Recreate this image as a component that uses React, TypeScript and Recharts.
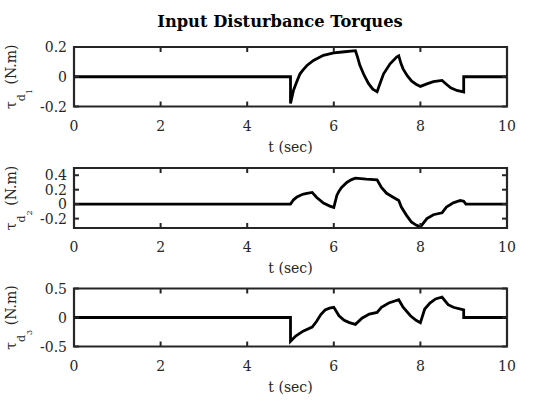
import { LineChart, Line, XAxis, YAxis, ReferenceArea } from 'recharts'

// time stamps (sec) and torques (N.m)
const T1 = [0, 5, 5, 5.07, 5.14, 5.22, 5.3, 5.38, 5.53, 5.76, 6.0, 6.25, 6.5, 6.55, 6.6, 6.7, 6.8, 6.9, 7.0, 7.08, 7.15, 7.3, 7.45, 7.5, 7.55, 7.6, 7.7, 7.8, 7.9, 8.0, 8.15, 8.3, 8.5, 8.6, 8.7, 8.84, 9.0, 9.0, 10]
const TAU1 = [0, 0, -0.18, -0.09, -0.037, 0.02, 0.05, 0.076, 0.11, 0.144, 0.16, 0.168, 0.175, 0.13, 0.078, 0.01, -0.045, -0.083, -0.1, -0.035, 0.02, 0.087, 0.132, 0.14, 0.09, 0.053, 0.005, -0.03, -0.05, -0.065, -0.048, -0.033, -0.025, -0.05, -0.074, -0.092, -0.102, 0, 0]

const T2 = [0, 5, 5.07, 5.15, 5.22, 5.3, 5.38, 5.5, 5.6, 5.76, 5.91, 6.0, 6.07, 6.12, 6.18, 6.3, 6.41, 6.5, 6.75, 7.0, 7.1, 7.22, 7.37, 7.5, 7.56, 7.68, 7.79, 7.9, 8.0, 8.15, 8.3, 8.5, 8.6, 8.76, 8.92, 9.0, 9.05, 10]
const TAU2 = [0, 0, 0.06, 0.1, 0.12, 0.14, 0.15, 0.162, 0.096, 0.014, -0.027, -0.046, 0.12, 0.18, 0.23, 0.3, 0.34, 0.36, 0.345, 0.335, 0.23, 0.15, 0.096, 0.05, -0.04, -0.155, -0.246, -0.29, -0.315, -0.2, -0.146, -0.12, -0.04, 0.018, 0.05, 0.04, 0, 0]

const T3 = [0, 5, 5, 5.12, 5.29, 5.5, 5.6, 5.7, 5.8, 5.9, 6.0, 6.12, 6.24, 6.36, 6.5, 6.65, 6.82, 7.0, 7.1, 7.27, 7.5, 7.6, 7.77, 7.9, 8.0, 8.1, 8.22, 8.35, 8.5, 8.64, 8.76, 9.0, 9.0, 10]
const TAU3 = [0, 0, -0.41, -0.32, -0.235, -0.165, -0.07, 0.05, 0.13, 0.16, 0.175, 0.03, -0.047, -0.088, -0.118, -0.012, 0.06, 0.088, 0.176, 0.25, 0.306, 0.176, 0.03, -0.047, -0.088, 0.147, 0.25, 0.32, 0.353, 0.22, 0.176, 0.13, 0, 0]

const X_TICKS = [0, 2, 4, 6, 8, 10]
const Y_TICKS_1 = [-0.2, 0, 0.2]
const Y_TICKS_2 = [-0.2, 0, 0.2, 0.4]
const Y_TICKS_3 = [-0.5, 0, 0.5]
const Y_DOMAIN_1 = [-0.2, 0.2]
const Y_DOMAIN_2 = [-0.33, 0.5]
const Y_DOMAIN_3 = [-0.5, 0.5]

const TITLE = 'Input Disturbance Torques'
const X_LABEL = 't (sec)'

const W = 560
const H = 420
const PLOT_LEFT = 74
const PLOT_RIGHT = 507
const X_AXIS_H = 50
const Y_AXIS_W = 60
const TICK_LEN = 5
const TICK_MARGIN = 4
const FONT = '"DejaVu Serif", serif'
const AXIS_COLOR = '#262626'

const PANELS = [
  { top: 47, bottom: 106.5, t: T1, v: TAU1, domain: Y_DOMAIN_1, ticks: Y_TICKS_1, sub: '1' },
  { top: 168, bottom: 228, t: T2, v: TAU2, domain: Y_DOMAIN_2, ticks: Y_TICKS_2, sub: '2' },
  { top: 288.5, bottom: 346.5, t: T3, v: TAU3, domain: Y_DOMAIN_3, ticks: Y_TICKS_3, sub: '3' },
]

const XTick = ({ x, y, payload, plotTop }: any) => {
  const axisY = y - TICK_MARGIN
  return (
    <g>
      <line x1={x} x2={x} y1={axisY} y2={axisY - TICK_LEN} stroke={AXIS_COLOR} strokeWidth={2} />
      <line x1={x} x2={x} y1={plotTop} y2={plotTop + TICK_LEN} stroke={AXIS_COLOR} strokeWidth={2} />
      <text x={x} y={axisY + 24} textAnchor="middle" fontFamily={FONT} fontSize={14} fill={AXIS_COLOR}>
        {payload.value}
      </text>
    </g>
  )
}

const YTick = ({ x, y, payload }: any) => {
  const axisX = x + TICK_MARGIN
  return (
    <g>
      <line x1={axisX} x2={axisX + TICK_LEN} y1={y} y2={y} stroke={AXIS_COLOR} strokeWidth={2} />
      <line x1={PLOT_RIGHT} x2={PLOT_RIGHT - TICK_LEN} y1={y} y2={y} stroke={AXIS_COLOR} strokeWidth={2} />
      <text x={axisX - 7} y={y + 5} textAnchor="end" fontFamily={FONT} fontSize={14} fill={AXIS_COLOR}>
        {String(payload.value)}
      </text>
    </g>
  )
}

function Panel({ panel }: { panel: (typeof PANELS)[number] }) {
  const data = panel.t.map((t, i) => ({ t, v: panel.v[i] }))
  return (
    <div style={{ position: 'absolute', left: 0, top: 0 }}>
      <LineChart
        width={W}
        height={H}
        data={data}
        margin={{
          top: panel.top,
          right: W - PLOT_RIGHT,
          bottom: H - panel.bottom - X_AXIS_H,
          left: PLOT_LEFT - Y_AXIS_W,
        }}
      >
        <XAxis
          dataKey="t"
          type="number"
          domain={[0, 10]}
          ticks={X_TICKS}
          height={X_AXIS_H}
          axisLine={false}
          tickLine={false}
          tickSize={0}
          tickMargin={TICK_MARGIN}
          interval={0}
          tick={(p: any) => <XTick {...p} plotTop={panel.top} />}
        />
        <YAxis
          type="number"
          domain={panel.domain}
          ticks={panel.ticks}
          width={Y_AXIS_W}
          axisLine={false}
          tickLine={false}
          tickSize={0}
          tickMargin={TICK_MARGIN}
          interval={0}
          allowDataOverflow
          tick={(p: any) => <YTick {...p} />}
        />
        <ReferenceArea
          x1={0}
          x2={10}
          y1={panel.domain[0]}
          y2={panel.domain[1]}
          fill="none"
          stroke={AXIS_COLOR}
          strokeWidth={2.2}
        />
        <Line
          dataKey="v"
          type="linear"
          stroke="#000"
          strokeWidth={2.8}
          dot={false}
          activeDot={false}
          isAnimationActive={false}
        />
      </LineChart>
    </div>
  )
}

export default function App() {
  const cx = (PLOT_LEFT + PLOT_RIGHT) / 2
  return (
    <div style={{ position: 'absolute', left: 0, top: 0, width: W, height: H, background: '#fff' }}>
      {PANELS.map((p) => (
        <Panel key={p.sub} panel={p} />
      ))}
      <svg width={W} height={H} style={{ position: 'absolute', left: 0, top: 0, pointerEvents: 'none' }}>
        {/* the title sits a little left of the axes centre in the original */}
        <text x={280} y={27} textAnchor="middle" fontFamily={FONT} fontWeight="bold" fontSize={16.3} fill="#000">
          {TITLE}
        </text>
        {PANELS.map((p) => {
          const cy = (p.top + p.bottom) / 2
          return (
            <g key={p.sub}>
              <text x={cx} y={p.bottom + 45} textAnchor="middle" fontFamily={FONT} fontSize={14} fill={AXIS_COLOR}>
                {X_LABEL}
              </text>
              <text
                transform={`translate(16 ${cy}) rotate(-90)`}
                textAnchor="middle"
                fontFamily={FONT}
                fontSize={14}
                fill={AXIS_COLOR}
              >
                τ
                <tspan fontSize={11} dy={9}>d</tspan>
                <tspan fontSize={8} dy={7}>{p.sub}</tspan>
                <tspan fontSize={14} dy={-16}>{'\u00a0(N.m)'}</tspan>
              </text>
            </g>
          )
        })}
      </svg>
    </div>
  )
}
